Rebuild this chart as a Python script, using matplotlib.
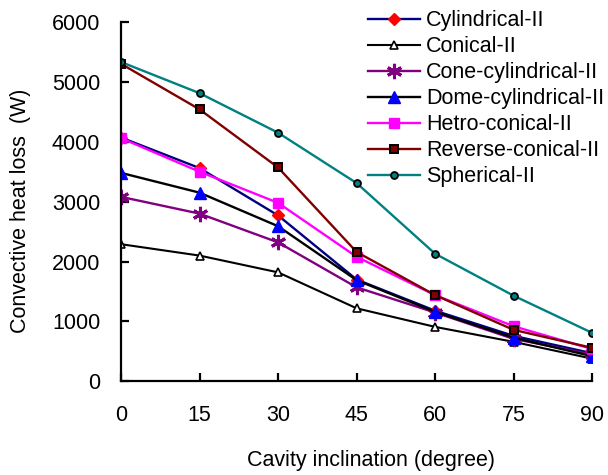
import matplotlib
matplotlib.use("Agg")
import matplotlib.pyplot as plt

plt.rcParams["font.family"] = ["Liberation Sans", "DejaVu Sans"]

# cavity inclination (degree)
angles = [0, 15, 30, 45, 60, 75, 90]

# convective heat loss (W)
cylindrical = [4070, 3560, 2770, 1700, 1180, 760, 470]
conical = [2290, 2100, 1820, 1220, 910, 660, 380]
cone_cylindrical = [3080, 2800, 2320, 1570, 1150, 710, 450]
dome_cylindrical = [3480, 3150, 2590, 1690, 1160, 730, 420]
hetro_conical = [4060, 3500, 2980, 2080, 1440, 920, 540]
reverse_conical = [5300, 4540, 3570, 2160, 1440, 860, 560]
spherical = [5330, 4810, 4150, 3310, 2130, 1430, 810]

labels = ["Cylindrical-II", "Conical-II", "Cone-cylindrical-II",
          "Dome-cylindrical-II", "Hetro-conical-II", "Reverse-conical-II",
          "Spherical-II"]

FS = 15.5

fig = plt.figure(figsize=(6.08, 4.75), dpi=100)
ax = fig.add_axes([0.199, 0.197, 0.775, 0.757])

ax.plot(angles, cylindrical, color="#000080", lw=1.7, marker="D", ms=6,
        mfc="#ff0000", mec="#ff0000", label=labels[0])
ax.plot(angles, conical, color="black", lw=1.5, marker="^", ms=6,
        mfc="white", mec="black", mew=1.2, label=labels[1])
ax.plot(angles, cone_cylindrical, color="#800080", lw=1.7, marker=(6, 2, 0),
        ms=11, mec="#800080", mew=2.2, label=labels[2])
ax.plot(angles, dome_cylindrical, color="black", lw=1.7, marker="^", ms=8,
        mfc="#0000ff", mec="#0000ff", label=labels[3])
ax.plot(angles, hetro_conical, color="#ff00ff", lw=1.7, marker="s", ms=7,
        mfc="#ff00ff", mec="#ff00ff", label=labels[4])
ax.plot(angles, reverse_conical, color="#800000", lw=1.7, marker="s", ms=6,
        mfc="#800000", mec="black", mew=1.4, label=labels[5])
ax.plot(angles, spherical, color="#008080", lw=1.7, marker="o", ms=5,
        mfc="#008080", mec="black", mew=1.3, label=labels[6])

ax.set_xlim(0, 90)
ax.set_ylim(0, 6000)
ax.set_xticks(angles)
ax.set_yticks(range(0, 6001, 1000))

for side in ["top", "right"]:
    ax.spines[side].set_visible(False)
for side in ["left", "bottom"]:
    ax.spines[side].set_linewidth(1.6)

ax.tick_params(axis="both", direction="in", length=6, width=1.6,
               labelsize=FS)
ax.tick_params(axis="x", pad=17)
ax.tick_params(axis="y", pad=15)

ax.set_xlabel("Cavity inclination (degree)", fontsize=FS)
ax.set_ylabel("Convective heat loss  (W)", fontsize=FS)
ax.xaxis.set_label_coords(0.53, -0.19)
ax.yaxis.set_label_coords(-0.19, 0.475)

fig.legend(loc="upper left", bbox_to_anchor=(0.605, 0.978), frameon=False,
           fontsize=FS, handlelength=2.4, handletextpad=0.3,
           labelspacing=0.23, borderpad=0, borderaxespad=0)

fig.savefig("out.png", dpi=100)
plt.close(fig)
